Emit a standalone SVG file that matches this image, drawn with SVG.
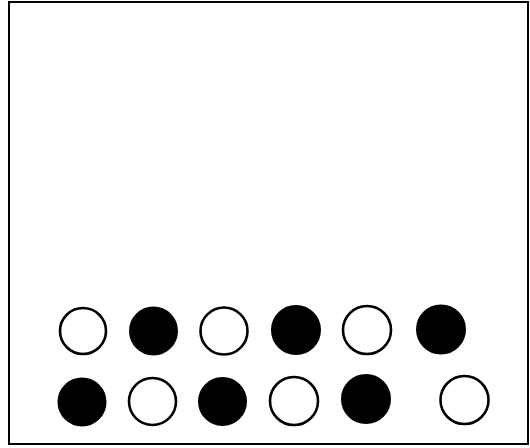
<svg xmlns="http://www.w3.org/2000/svg" width="530" height="448" viewBox="0 0 530 448">
<style>
.frame{fill:#fff;stroke:#000;stroke-width:2}
.open{fill:#fff;stroke:#000;stroke-width:2.6}
.full{fill:#000;stroke:#000;stroke-width:2}
</style>
<rect class="frame" x="9" y="2" width="519" height="442"/>
<g id="row1">
<circle id="c1" class="open" cx="83" cy="331" r="23"/>
<circle id="c2" class="full" cx="153.5" cy="331" r="23.5"/>
<circle id="c3" class="open" cx="224" cy="331" r="23.5"/>
<circle id="c4" class="full" cx="296" cy="330" r="24"/>
<circle id="c5" class="open" cx="367" cy="330" r="24"/>
<circle id="c6" class="full" cx="441" cy="329.5" r="24"/>
</g>
<g id="row2">
<circle id="c7" class="full" cx="82" cy="402" r="23.5"/>
<circle id="c8" class="open" cx="152.5" cy="401.5" r="23.5"/>
<circle id="c9" class="full" cx="222.5" cy="401.5" r="23.5"/>
<circle id="c10" class="open" cx="294" cy="401" r="24"/>
<circle id="c11" class="full" cx="366" cy="399" r="24"/>
<circle id="c12" class="open" cx="464.5" cy="400" r="24"/>
</g>
</svg>
